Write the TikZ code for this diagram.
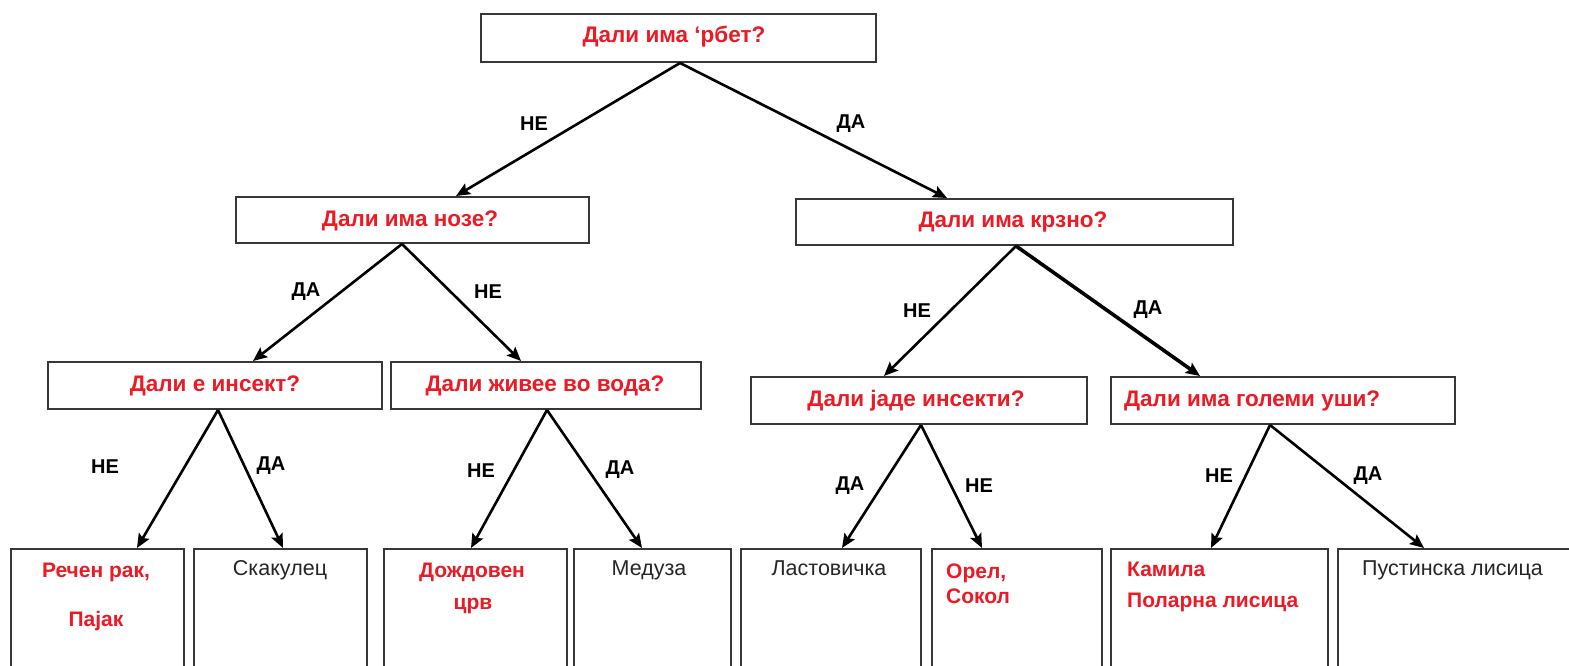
\documentclass[tikz,border=0pt]{standalone}
\usepackage{fontspec}
\setmainfont{Liberation Sans}
\usetikzlibrary{arrows.meta}
\definecolor{qred}{RGB}{235,26,36}
\definecolor{boxline}{RGB}{55,55,55}
\tikzset{
  box/.style={draw=boxline, line width=2pt, rectangle, inner sep=0pt, anchor=north west, fill=white},
  qtext/.style={inner sep=0pt, text=qred, font=\fontsize{22.5}{26}\selectfont\bfseries},
  rtext/.style={inner sep=0pt, text=qred, font=\fontsize{21}{25}\selectfont\bfseries},
  btext/.style={inner sep=0pt, text=black!85, font=\fontsize{21.5}{25}\selectfont},
  lbl/.style={inner sep=0pt, text=black, font=\fontsize{20}{23}\selectfont\bfseries},
  conn/.style={line width=2.6pt, -{Stealth[length=14pt,width=12pt,inset=2.5pt]}},
  thickconn/.style={line width=3.6pt, -{Stealth[length=14pt,width=12pt,inset=2.5pt]}},
}
\begin{document}
\begin{tikzpicture}[x=1pt,y=-1pt]
\useasboundingbox (0,0) rectangle (1569,666);
\clip (0,0) rectangle (1569,666);
\fill[white] (0,0) rectangle (1569,666);
% question boxes
\node[box, minimum width=395, minimum height=48] (root) at (480,13) {};
\node[box, minimum width=353, minimum height=46] (nose) at (235,196) {};
\node[box, minimum width=437, minimum height=46] (krzno) at (795,198) {};
\node[box, minimum width=334, minimum height=47] (insekt) at (47,361) {};
\node[box, minimum width=310, minimum height=47] (voda) at (390,361) {};
\node[box, minimum width=336, minimum height=47] (jade) at (750,376) {};
\node[box, minimum width=344, minimum height=47] (ushi) at (1110,376) {};
% leaf boxes
\node[box, minimum width=173, minimum height=160] (rechen) at (10,548) {};
\node[box, minimum width=173, minimum height=160] (skak) at (193,548) {};
\node[box, minimum width=183, minimum height=160] (dozhd) at (383,548) {};
\node[box, minimum width=157, minimum height=160] (meduza) at (573,548) {};
\node[box, minimum width=180, minimum height=160] (lastov) at (740,548) {};
\node[box, minimum width=170, minimum height=160] (orel) at (931,548) {};
\node[box, minimum width=217, minimum height=160] (kamila) at (1110,548) {};
\node[box, minimum width=260, minimum height=160] (pustin) at (1337,548) {};
% question texts
\node[qtext, anchor=base] (troot) at (674,43) {Дали има ‘рбет?};
\node[qtext, anchor=base] (tnose) at (410,226) {Дали има нозе?};
\node[qtext, anchor=base] (tkrzno) at (1013,227) {Дали има крзно?};
\node[qtext, anchor=base] (tinsekt) at (215,391) {Дали е инсект?};
\node[qtext, anchor=base] (tvoda) at (545,391) {Дали живее во вода?};
\node[qtext, anchor=base] (tjade) at (916,406) {Дали јаде инсекти?};
\node[qtext, anchor=base west] (tushi) at (1124,406) {Дали има големи уши?};
% leaf texts
\node[rtext, anchor=base] (trechen1) at (96,577) {Речен рак,};
\node[rtext, anchor=base] (trechen2) at (96,626) {Пајак};
\node[btext, anchor=base] (tskak) at (280,575) {Скакулец};
\node[rtext, anchor=base] (tdozhd1) at (472,577) {Дождовен};
\node[rtext, anchor=base] (tdozhd2) at (473,609) {црв};
\node[btext, anchor=base] (tmeduza) at (649,575) {Медуза};
\node[btext, anchor=base] (tlastov) at (829,575) {Ластовичка};
\node[rtext, anchor=base west] (torel1) at (946,578) {Орел,};
\node[rtext, anchor=base west] (torel2) at (946,603) {Сокол};
\node[rtext, anchor=base west] (tkamila1) at (1127,576) {Камила};
\node[rtext, anchor=base west] (tkamila2) at (1127,607) {Поларна лисица};
\node[btext, anchor=base west] (tpustin) at (1362,575) {Пустинска лисица};
% connectors
\draw[conn] ([xshift=200]root.south west) -- ([xshift=221]nose.north west);
\draw[conn] ([xshift=200]root.south west) -- ([xshift=152]krzno.north west);
\draw[conn] ([xshift=167]nose.south west) -- ([xshift=206]insekt.north west);
\draw[conn] ([xshift=167]nose.south west) -- ([xshift=131]voda.north west);
\draw[conn] ([xshift=221]krzno.south west) -- ([xshift=134]jade.north west);
\draw[thickconn] ([xshift=221]krzno.south west) -- ([xshift=90]ushi.north west);
\draw[conn] ([xshift=171]insekt.south west) -- ([xshift=127]rechen.north west);
\draw[conn] ([xshift=171]insekt.south west) -- ([xshift=90]skak.north west);
\draw[conn] ([xshift=157]voda.south west) -- ([xshift=88]dozhd.north west);
\draw[conn] ([xshift=157]voda.south west) -- ([xshift=69]meduza.north west);
\draw[conn] ([xshift=171]jade.south west) -- ([xshift=102]lastov.north west);
\draw[conn] ([xshift=171]jade.south west) -- ([xshift=51]orel.north west);
\draw[conn] ([xshift=160]ushi.south west) -- ([xshift=101]kamila.north west);
\draw[conn] ([xshift=160]ushi.south west) -- ([xshift=87]pustin.north west);
% connector labels
\node[lbl] (l1) at (534,124) {НЕ};
\node[lbl] (l2) at (851,124) {ДА};
\node[lbl] (l3) at (306,292) {ДА};
\node[lbl] (l4) at (488,292) {НЕ};
\node[lbl] (l5) at (917,311) {НЕ};
\node[lbl] (l6) at (1148,310) {ДА};
\node[lbl] (l7) at (105,467) {НЕ};
\node[lbl] (l8) at (271,466) {ДА};
\node[lbl] (l9) at (481,471) {НЕ};
\node[lbl] (l10) at (620,470) {ДА};
\node[lbl] (l11) at (850,486) {ДА};
\node[lbl] (l12) at (979,486) {НЕ};
\node[lbl] (l13) at (1219,476) {НЕ};
\node[lbl] (l14) at (1368,476) {ДА};
\end{tikzpicture}
\end{document}
